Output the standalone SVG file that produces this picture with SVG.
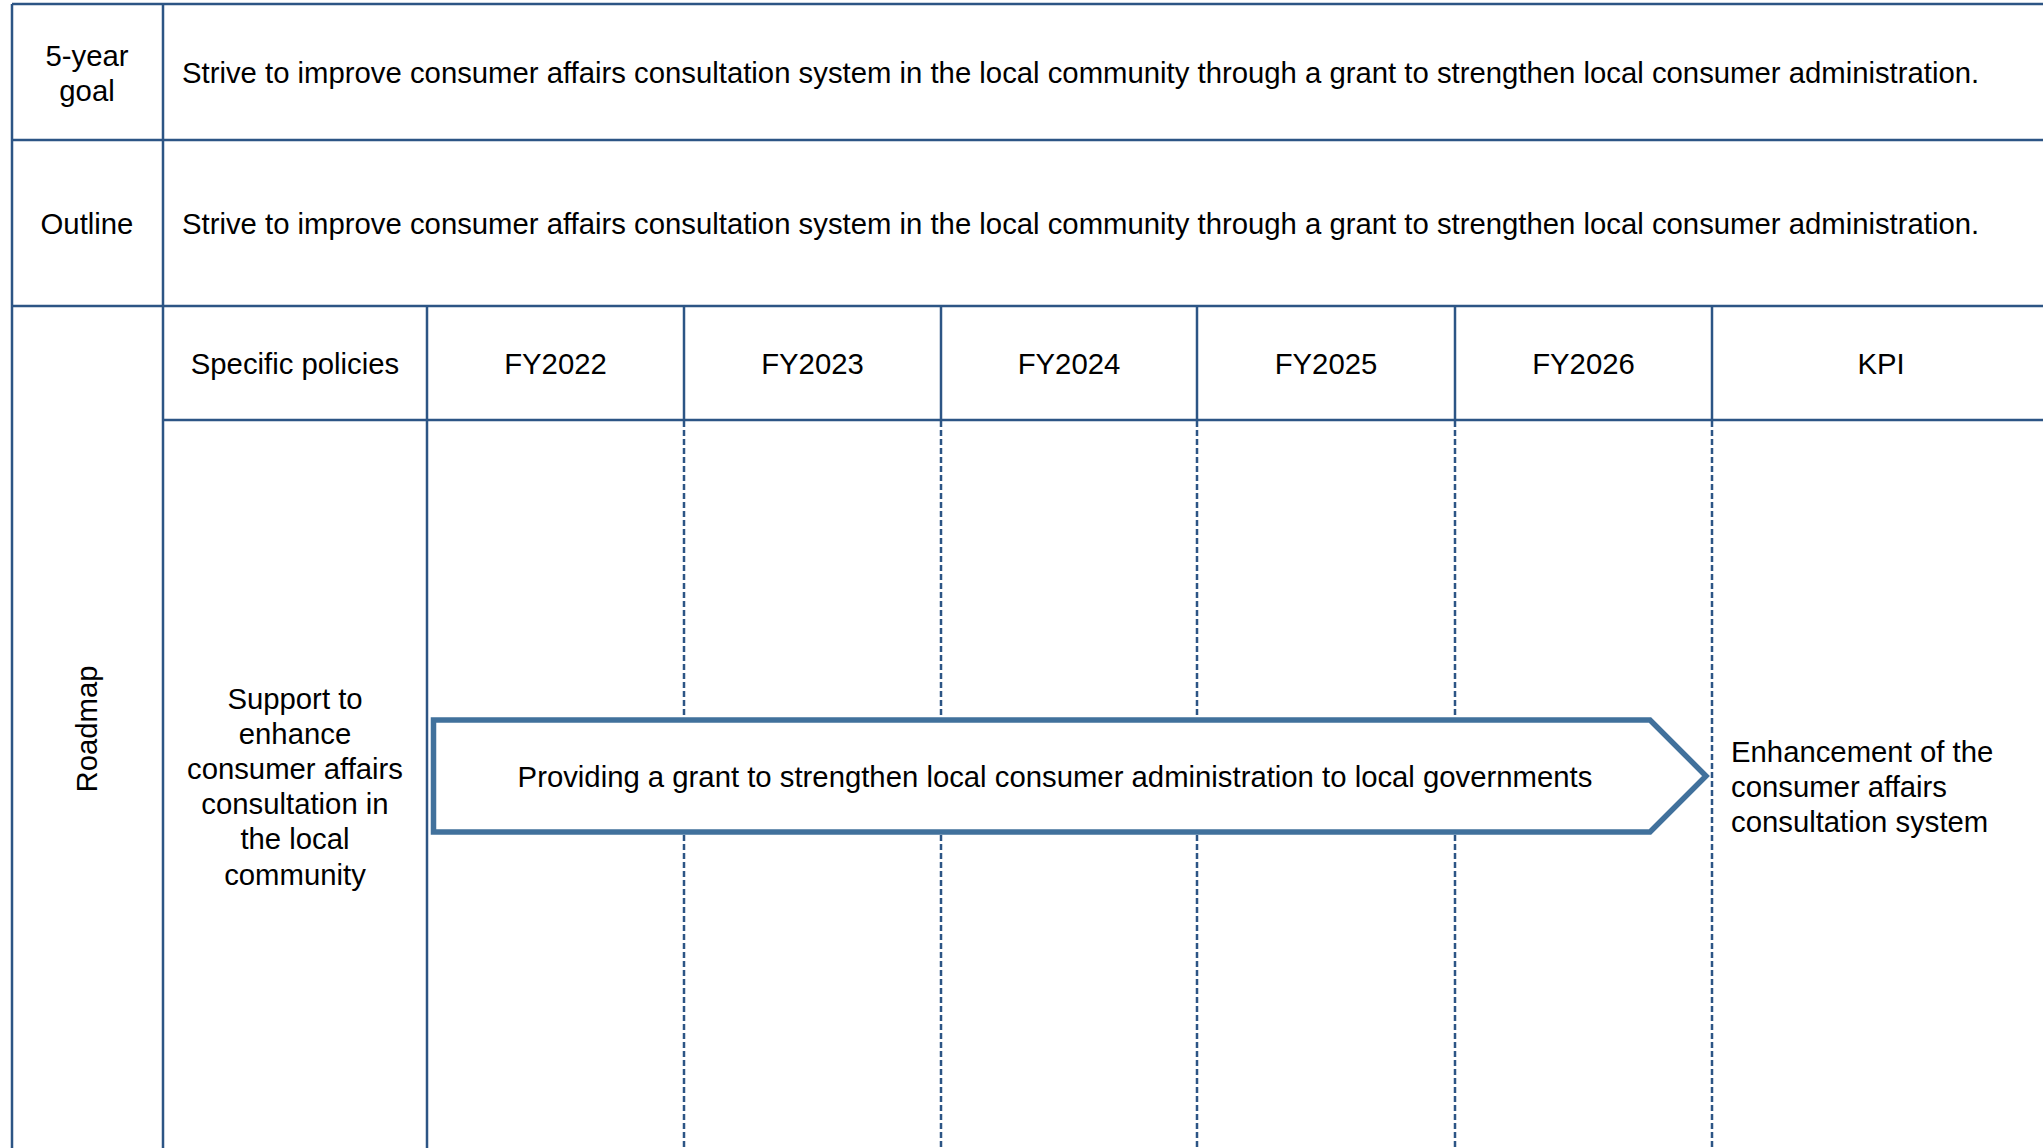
<svg xmlns="http://www.w3.org/2000/svg" width="2043" height="1148" viewBox="0 0 2043 1148">
<style>
.t{font-family:"Liberation Sans",Arial,sans-serif;font-size:29.3px;fill:#000}
.c{text-anchor:middle}
.ln{stroke:#2C5585;stroke-width:2.5;fill:none}
.dl{stroke:#2C5585;stroke-width:2.5;fill:none;stroke-dasharray:6 3}
.arrow{fill:#fff;stroke:#41719C;stroke-width:5.5}
</style>
<rect width="2043" height="1148" fill="#fff"/>
<g id="grid">
<line class="ln" x1="12" y1="4" x2="2043" y2="4"/>
<line class="ln" x1="12" y1="140" x2="2043" y2="140"/>
<line class="ln" x1="12" y1="306" x2="2043" y2="306"/>
<line class="ln" x1="163" y1="420" x2="2043" y2="420"/>
<line class="ln" x1="12" y1="4" x2="12" y2="1148"/>
<line class="ln" x1="163" y1="4" x2="163" y2="1148"/>
<line class="ln" x1="427" y1="306" x2="427" y2="1148"/>
<line class="ln" x1="684" y1="306" x2="684" y2="420"/>
<line class="ln" x1="941" y1="306" x2="941" y2="420"/>
<line class="ln" x1="1197" y1="306" x2="1197" y2="420"/>
<line class="ln" x1="1455" y1="306" x2="1455" y2="420"/>
<line class="ln" x1="1712" y1="306" x2="1712" y2="420"/>
<line class="dl" x1="684" y1="421" x2="684" y2="1148"/>
<line class="dl" x1="941" y1="421" x2="941" y2="1148"/>
<line class="dl" x1="1197" y1="421" x2="1197" y2="1148"/>
<line class="dl" x1="1455" y1="421" x2="1455" y2="1148"/>
<line class="dl" x1="1712" y1="421" x2="1712" y2="1148"/>
</g>
<g id="goal-label"><text class="t c" x="87" y="65.5">5-year</text><text class="t c" x="87" y="101">goal</text></g>
<g id="goal-text"><text class="t" x="182" y="83">Strive to improve consumer affairs consultation system in the local community through a grant to strengthen local consumer administration.</text></g>
<g id="outline-label"><text class="t c" x="87" y="233.5">Outline</text></g>
<g id="outline-text"><text class="t" x="182" y="233.5">Strive to improve consumer affairs consultation system in the local community through a grant to strengthen local consumer administration.</text></g>
<g id="roadmap-label"><text class="t c" transform="translate(97,729) rotate(-90)" x="0" y="0">Roadmap</text></g>
<g id="headers">
<text class="t c" x="295" y="374">Specific policies</text>
<text class="t c" x="555.5" y="374">FY2022</text>
<text class="t c" x="812.5" y="374">FY2023</text>
<text class="t c" x="1069" y="374">FY2024</text>
<text class="t c" x="1326" y="374">FY2025</text>
<text class="t c" x="1583.5" y="374">FY2026</text>
<text class="t c" x="1881" y="374">KPI</text>
</g>
<g id="policy">
<text class="t c" x="295" y="708.5">Support to</text>
<text class="t c" x="295" y="743.7">enhance</text>
<text class="t c" x="295" y="778.9">consumer affairs</text>
<text class="t c" x="295" y="814.1">consultation in</text>
<text class="t c" x="295" y="849.3">the local</text>
<text class="t c" x="295" y="884.5">community</text>
</g>
<g id="arrow">
<polygon class="arrow" points="433.5,720 1650,720 1706,776 1650,832 433.5,832"/>
<text class="t c" x="1055" y="786.5">Providing a grant to strengthen local consumer administration to local governments</text>
</g>
<g id="kpi">
<text class="t" x="1731" y="761.5">Enhancement of the</text>
<text class="t" x="1731" y="796.7">consumer affairs</text>
<text class="t" x="1731" y="831.9">consultation system</text>
</g>
</svg>
